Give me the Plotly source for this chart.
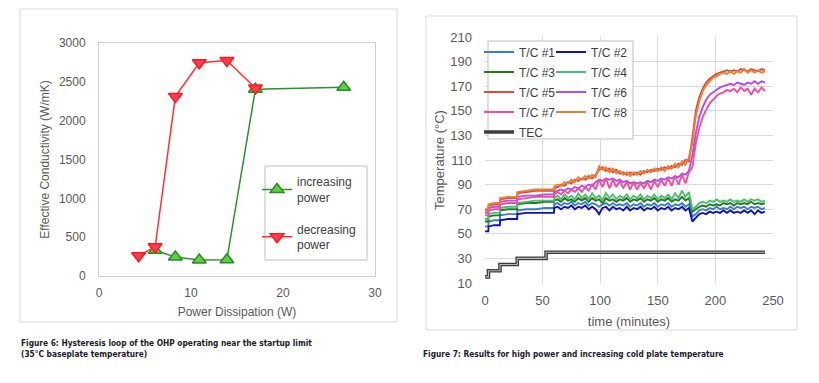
import plotly.graph_objects as go

# The page body keeps its default 8px margin, so the figure is drawn 8px in.
PAGE_PAD = 8
W, H = 819 - PAGE_PAD, 383 - PAGE_PAD

# ---------------- Figure 6 data ----------------
inc_power = [6.1, 8.3, 10.9, 13.9, 17.0, 26.6]
inc_keff = [330, 245, 205, 210, 2405, 2430]
dec_power = [4.3, 6.1, 8.3, 10.9, 13.9, 17.0]
dec_keff = [260, 375, 2310, 2745, 2775, 2420]

# ---------------- Figure 7 data ----------------
time_min = [0, 2.9, 3.1, 8, 12.9, 13.1, 20, 27.9, 28.1, 36, 44, 52, 59.9,
            60, 63, 66, 69, 72, 75, 78, 81, 84, 87,
            90, 93, 96, 99, 102, 105, 108, 111, 114, 117,
            120, 123, 126, 129, 132, 135, 138, 141, 144, 147,
            150, 153, 156, 159, 162, 165, 168, 171, 174, 177,
            180, 183, 186, 189, 192, 195, 198, 201, 204, 207,
            210, 213, 216, 219, 222, 225, 228, 231, 234, 237,
            240, 243]

tc1 = [56, 56, 60, 61, 61, 65, 66, 66, 69, 70, 70, 71, 71,
       74, 75, 73, 75, 74, 76, 73, 75, 74, 76,
       73, 75, 74, 72, 74, 75, 73, 75, 73, 74,
       73, 75, 72, 74, 73, 75, 72, 74, 73, 75,
       72, 74, 73, 75, 72, 74, 73, 75, 72, 74,
       64, 66, 69, 70, 69, 71, 70, 72, 70, 71,
       70, 72, 70, 72, 71, 72, 70, 72, 71, 72,
       70, 71]
tc2 = [52, 52, 56, 57, 57, 61, 62, 62, 66, 67, 67, 67, 67,
       71, 72, 70, 72, 71, 73, 70, 72, 71, 73,
       70, 72, 70, 66, 71, 72, 69, 72, 70, 71,
       69, 72, 69, 71, 70, 72, 69, 71, 70, 72,
       69, 71, 70, 72, 69, 71, 70, 72, 69, 71,
       60, 63, 66, 67, 66, 68, 67, 68, 67, 69,
       67, 69, 67, 68, 67, 69, 67, 69, 66, 69,
       67, 68]
tc3 = [60, 60, 64, 65, 65, 69, 70, 70, 74, 75, 75, 76, 76,
       77, 78, 76, 79, 77, 78, 76, 79, 77, 79,
       76, 79, 77, 78, 75, 79, 77, 78, 76, 78,
       77, 79, 76, 78, 77, 79, 76, 78, 77, 79,
       76, 78, 77, 79, 76, 78, 77, 80, 77, 79,
       68, 70, 72, 73, 72, 74, 73, 74, 73, 75,
       74, 75, 73, 75, 74, 75, 74, 76, 74, 75,
       74, 75]
tc4 = [62, 62, 66, 67, 67, 71, 72, 72, 75, 76, 77, 77, 77,
       79, 81, 78, 82, 79, 81, 78, 83, 79, 82,
       78, 83, 79, 81, 77, 83, 79, 82, 78, 81,
       79, 82, 78, 81, 79, 82, 78, 81, 79, 82,
       78, 81, 79, 82, 78, 83, 79, 85, 80, 84,
       70, 72, 75, 76, 75, 77, 76, 78, 76, 77,
       76, 78, 76, 77, 76, 78, 76, 78, 77, 78,
       76, 77]
tc5 = [69, 69, 73, 74, 74, 78, 79, 79, 83, 84, 85, 85, 85,
       87, 88, 90, 89, 92, 91, 94, 93, 95, 94,
       97, 95, 98, 102, 104, 101, 103, 100, 102, 99,
       100, 98, 100, 98, 100, 98, 101, 100, 102, 101,
       103, 102, 104, 103, 105, 104, 107, 106, 110, 109,
       128, 150, 161, 168, 173, 176, 178, 180, 181, 182,
       183, 182, 183, 182, 184, 183, 182, 184, 183, 182,
       184, 183]
tc6 = [67, 67, 71, 72, 72, 76, 77, 77, 80, 81, 81, 82, 82,
       84, 85, 86, 85, 87, 86, 88, 87, 89, 88,
       90, 89, 92, 94, 93, 95, 94, 95, 93, 94,
       92, 93, 91, 92, 91, 92, 91, 93, 92, 94,
       93, 95, 94, 96, 95, 97, 96, 99, 98, 101,
       114, 132, 145, 153, 159, 163, 165, 167, 169, 170,
       171, 172, 171, 173, 172, 171, 173, 172, 174, 172,
       174, 173]
tc7 = [65, 65, 69, 70, 70, 74, 75, 75, 78, 79, 80, 80, 80,
       82, 84, 82, 85, 83, 86, 84, 87, 84, 88,
       85, 90, 86, 94, 88, 95, 87, 94, 88, 93,
       87, 92, 86, 92, 86, 91, 87, 92, 86, 93,
       88, 94, 89, 95, 89, 97, 90, 98, 91, 100,
       104, 124, 136, 145, 151, 156, 159, 162, 164, 165,
       167, 166, 168, 165, 169, 166, 168, 163, 168, 165,
       169, 166]
tc8 = [70, 70, 74, 75, 75, 79, 80, 80, 84, 85, 86, 86, 86,
       88, 90, 89, 92, 91, 94, 92, 96, 94, 97,
       95, 98, 96, 105, 102, 104, 100, 103, 99, 101,
       98, 100, 97, 100, 98, 101, 99, 102, 100, 103,
       101, 104, 101, 105, 103, 107, 104, 109, 106, 112,
       124, 146, 158, 166, 171, 174, 177, 178, 180, 181,
       180, 182, 180, 182, 181, 184, 181, 183, 181, 183,
       181, 182]

tec_time = [0, 3, 13, 28, 53, 243]
tec_temp = [15, 20, 25, 30, 35, 35]

tc_names = ["T/C #1", "T/C #2", "T/C #3", "T/C #4", "T/C #5", "T/C #6", "T/C #7", "T/C #8"]
tc_series = [tc1, tc2, tc3, tc4, tc5, tc6, tc7, tc8]
tc_colors = ["#3a7dc9", "#1212b0", "#1e7b1e", "#4dbd6e", "#e8453c", "#b34ce8", "#f04e9c", "#ed7d31"]

# ---------------- layout helpers (window pixel -> paper fraction) ----------------
def px_x(p):
    return (p - PAGE_PAD) / W

def px_y(p):
    return 1 - (p - PAGE_PAD) / H

TICK = dict(family="Liberation Sans, Arial, sans-serif", size=12, color="#595959")
TICK13 = dict(family="Liberation Sans, Arial, sans-serif", size=13, color="#595959")

fig = go.Figure()

# Figure 6 traces
fig.add_trace(go.Scatter(
    x=inc_power, y=inc_keff, mode="lines+markers", name="increasing<br>power",
    line=dict(color="#2f8f2f", width=1.5),
    marker=dict(symbol="triangle-up", size=12, color="#5cd23a", line=dict(color="#2a8a2a", width=1.5)),
    xaxis="x", yaxis="y", legend="legend", legendgroup="inc"))
fig.add_trace(go.Scatter(
    x=dec_power, y=dec_keff, mode="lines+markers", name="decreasing<br>power",
    line=dict(color="#ff3030", width=1.5),
    marker=dict(symbol="triangle-down", size=12, color="#ff3c5a", line=dict(color="#ff1a1a", width=1.5)),
    xaxis="x", yaxis="y", legend="legend", legendgroup="dec"))

# Figure 7 traces
for i, (nm, ser, col) in enumerate(zip(tc_names, tc_series, tc_colors)):
    fig.add_trace(go.Scatter(
        x=time_min, y=ser, mode="lines", name=nm,
        line=dict(color=col, width=1.9),
        xaxis="x2", yaxis="y2", legend="legend2" if i % 2 == 0 else "legend3",
        legendgroup="g%d" % i))

fig.add_trace(go.Scatter(
    x=tec_time, y=tec_temp, mode="lines", name="TEC", line_shape="hv",
    line=dict(color="#3c3c3c", width=3.6), xaxis="x2", yaxis="y2", legend="legend2",
    legendgroup="tec"))
fig.add_trace(go.Scatter(
    x=tec_time, y=tec_temp, mode="lines", name="TEC", line_shape="hv", showlegend=False,
    line=dict(color="#b8b8b8", width=1.1), xaxis="x2", yaxis="y2", hoverinfo="skip"))

shapes = [
    # panel borders
    dict(type="rect", xref="paper", yref="paper", x0=px_x(20), x1=px_x(397), y0=px_y(322), y1=px_y(9),
         line=dict(color="#d9d9d9", width=1), layer="below"),
    dict(type="rect", xref="paper", yref="paper", x0=px_x(426), x1=px_x(797), y0=px_y(330), y1=px_y(16),
         line=dict(color="#d9d9d9", width=1), layer="below"),
    # legend boxes
    dict(type="rect", xref="paper", yref="paper", x0=px_x(265), x1=px_x(367), y0=px_y(260), y1=px_y(166),
         line=dict(color="#bfbfbf", width=1), fillcolor="white", layer="above"),
    dict(type="rect", xref="paper", yref="paper", x0=px_x(488), x1=px_x(633), y0=px_y(139), y1=px_y(41),
         line=dict(color="#bfbfbf", width=1), fillcolor="white", layer="above"),
]

CAP = dict(family="DejaVu Sans Condensed, Liberation Sans Narrow, sans-serif", size=8.3, color="#1c1c2c")
annotations = [
    dict(text="<b>Figure 6: Hysteresis loop of the OHP operating near the startup limit<br>(35°C baseplate temperature)</b>",
         xref="paper", yref="paper", x=px_x(19), y=px_y(336), xanchor="left", yanchor="top",
         showarrow=False, align="left", font=CAP),
    dict(text="<b>Figure 7: Results for high power and increasing cold plate temperature</b>",
         xref="paper", yref="paper", x=px_x(421), y=px_y(347), xanchor="left", yanchor="top",
         showarrow=False, align="left", font=CAP),
]

LEG = dict(family="Liberation Sans, Arial, sans-serif", size=12, color="#404040")

fig.update_layout(
    template="none",
    width=W, height=H, margin=dict(l=0, r=0, t=0, b=0, autoexpand=False),
    paper_bgcolor="white", plot_bgcolor="white",
    showlegend=True,
    xaxis=dict(domain=[px_x(99), px_x(375)], range=[0, 30], dtick=10, showgrid=False, zeroline=False,
               showline=True, mirror=True, linecolor="#cfcfcf", linewidth=1, ticks="", automargin=False,
               tickfont=TICK, ticklabelstandoff=6,
               title=dict(text="Power Dissipation (W)", font=TICK, standoff=8), anchor="y"),
    yaxis=dict(domain=[px_y(276), px_y(43)], range=[0, 3000], dtick=500, showgrid=False, zeroline=False,
               showline=True, mirror=True, linecolor="#cfcfcf", linewidth=1, ticks="", automargin=False,
               tickfont=TICK, ticklabelstandoff=10,
               title=dict(text="Effective Conductivity (W/mK)", font=TICK, standoff=6), anchor="x"),
    xaxis2=dict(domain=[px_x(485), px_x(773)], range=[0, 250], dtick=50, showgrid=True, gridcolor="#d9d9d9",
                zeroline=False, showline=False, ticks="", tickfont=TICK13, ticklabelstandoff=8,
                automargin=False,
                title=dict(text="time (minutes)", font=TICK13, standoff=9), anchor="y2"),
    yaxis2=dict(domain=[px_y(283), px_y(37)], range=[10, 210], tick0=10, dtick=20, showgrid=True,
                gridcolor="#d9d9d9", zeroline=False, showline=False, ticks="", tickfont=TICK13,
                ticklabelstandoff=12, automargin=False,
                title=dict(text="Temperature (°C)", font=TICK13, standoff=2), anchor="x2"),
    legend=dict(x=px_x(257), y=px_y(167.5), xanchor="left", yanchor="top", bgcolor="rgba(0,0,0,0)",
                font=LEG, tracegroupgap=13, itemwidth=30),
    legend2=dict(x=px_x(479), y=px_y(37.5), xanchor="left", yanchor="top", bgcolor="rgba(0,0,0,0)",
                 font=LEG, tracegroupgap=1, itemwidth=30),
    legend3=dict(x=px_x(551), y=px_y(37.5), xanchor="left", yanchor="top", bgcolor="rgba(0,0,0,0)",
                 font=LEG, tracegroupgap=1, itemwidth=30),
    shapes=shapes, annotations=annotations,
)

fig.write_html("out.html")
